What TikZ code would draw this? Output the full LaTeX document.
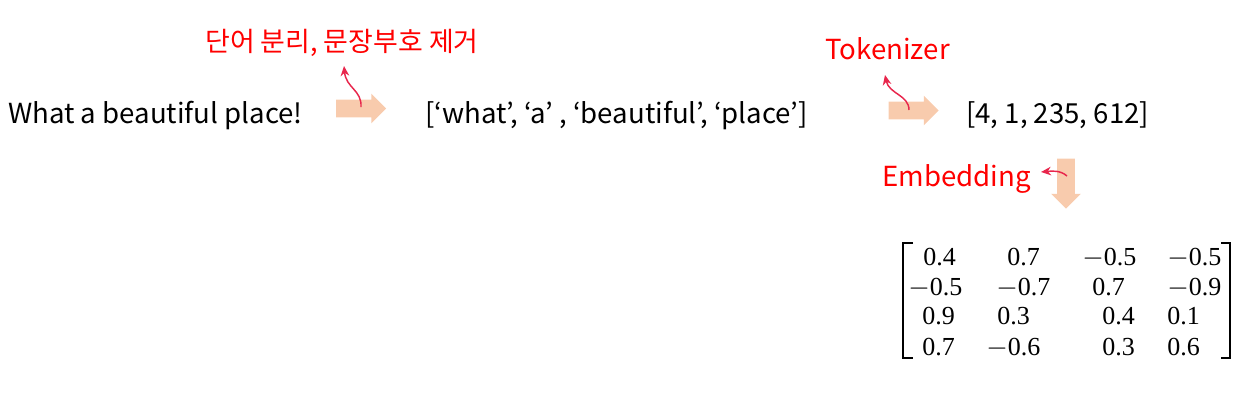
\documentclass[tikz,border=0pt]{standalone}
\usepackage{fontspec}
\setmainfont{Noto Sans CJK KR}
\newfontfamily\numfont{Liberation Serif}
\usetikzlibrary{shapes.arrows,arrows.meta}
\definecolor{peach}{HTML}{F8CBAD}
\definecolor{curvered}{HTML}{E8264C}
\newcommand{\mneg}{\ensuremath{-}}
\begin{document}
\begin{tikzpicture}[x=0.75pt,y=-0.75pt,
  blockarrow/.style={single arrow, fill=peach, draw=none,
    inner xsep=0pt, inner ysep=6.4pt,
    minimum height=37.5pt,
    single arrow head extend=4.5pt, single arrow tip angle=90, anchor=tip},
  txt/.style={font=\fontsize{20.7}{25}\selectfont, inner sep=0pt, anchor=base west},
  lbl/.style={txt, text=red},
  callout/.style={draw=curvered, line width=1.1pt, -{Stealth[length=7.5pt,width=6.5pt]}},
  num/.style={font=\numfont\fontsize{19.5}{22}\selectfont, inner sep=0pt, anchor=base west},
  brk/.style={line width=1.5pt}]
\useasboundingbox (0,0) rectangle (1256,411);

% main texts
\node[txt] (sent) at (8,123) {What a beautiful place!};
\node[txt] (list) at (425,123) {[‘what’, ‘a’ , ‘beautiful’, ‘place’]};
\node[txt] (ids) at (966,123) {[4, 1, 235, 612]};

% labels
\node[lbl, font=\fontsize{20.2}{25}\selectfont] (split) at (205,51) {단어 분리, 문장부호 제거};
\node[lbl] (tok) at (825,59) {Tokenizer};
\node[lbl] (emb) at (882,186) {Embedding};

% block arrows
\node[blockarrow] (a1) at (386.5,108.5) {};
\node[blockarrow] (a2) at (939,110.5) {};
\node[blockarrow, rotate=-90] (a3) at (1066,209) {};

% callout curves
\coordinate (s1) at (361,107);
\coordinate (t1) at (344,66);
\coordinate (s2) at (909,110);
\coordinate (t2) at (885,75);
\coordinate (s3) at (1067,176);
\coordinate (t3) at (1041,172);
\draw[callout] (s1) .. controls (362,90) and (346,88) .. (t1);
\draw[callout] (s2) .. controls (909,95) and (889,94) .. (t2);
\draw[callout] (s3) .. controls (1060,170) and (1052,171) .. (t3);

% matrix brackets
\draw[brk] (913,243) -- (903,243) -- (903,358) -- (913,358);
\draw[brk] (1221,243) -- (1230,243) -- (1230,358) -- (1221,358);

% matrix entries
\node[num] (m11) at (923,265) {0.4};
\node[num] (m12) at (1007,265) {0.7};
\node[num] (m13) at (1082,265) {\mneg0.5};
\node[num] (m14) at (1167,265) {\mneg0.5};
\node[num] (m21) at (908,295) {\mneg0.5};
\node[num] (m22) at (996,295) {\mneg0.7};
\node[num] (m23) at (1092,295) {0.7};
\node[num] (m24) at (1167,295) {\mneg0.9};
\node[num] (m31) at (922,324) {0.9};
\node[num] (m32) at (997,324) {0.3};
\node[num] (m33) at (1102,324) {0.4};
\node[num] (m34) at (1167,324) {0.1};
\node[num] (m41) at (922,355) {0.7};
\node[num] (m42) at (986,355) {\mneg0.6};
\node[num] (m43) at (1102,355) {0.3};
\node[num] (m44) at (1167,355) {0.6};
\end{tikzpicture}
\end{document}
